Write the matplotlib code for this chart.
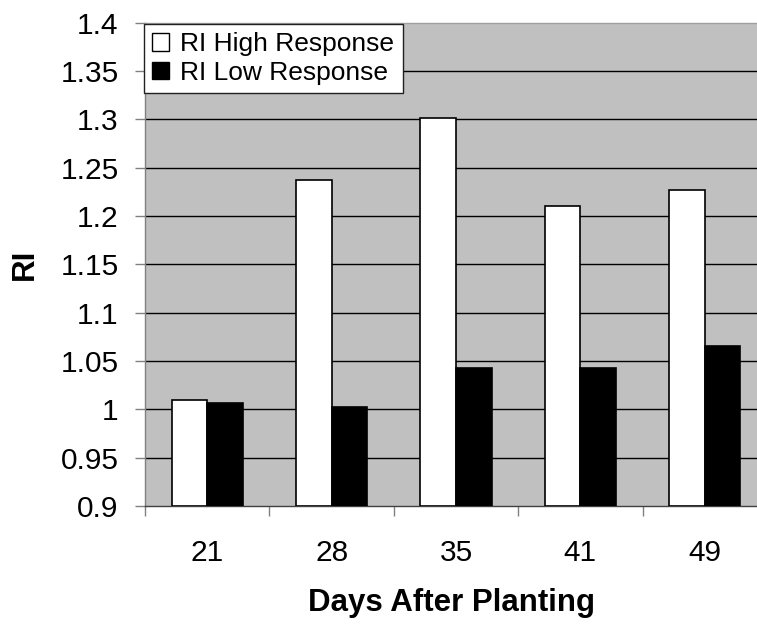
import matplotlib
matplotlib.use("Agg")
import matplotlib.pyplot as plt
import numpy as np

plt.rcParams['font.family'] = ['Liberation Sans', 'DejaVu Sans']

categories = ["21", "28", "35", "41", "49"]
ri_high = [1.010, 1.237, 1.301, 1.210, 1.227]
ri_low = [1.007, 1.002, 1.043, 1.043, 1.065]
y_ticks = [0.9, 0.95, 1.0, 1.05, 1.1, 1.15, 1.2, 1.25, 1.3, 1.35, 1.4]
y_tick_labels = ["0.9", "0.95", "1", "1.05", "1.1", "1.15", "1.2", "1.25", "1.3", "1.35", "1.4"]

W, H = 757, 624
fig = plt.figure(figsize=(W / 100, H / 100), dpi=100)
left, right, top, bottom = 145, 767, 22.5, 506
ax = fig.add_axes([left / W, 1 - bottom / H, (right - left) / W, (bottom - top) / H])
ax.set_facecolor("#C0C0C0")

x = np.arange(len(categories))
bw = 0.286
ax.bar(x - bw / 2, np.array(ri_high) - 0.9, bw, bottom=0.9, color="white",
       edgecolor="black", linewidth=1.2, label="RI High Response", zorder=3)
ax.bar(x + bw / 2, np.array(ri_low) - 0.9, bw, bottom=0.9, color="black",
       edgecolor="black", linewidth=1.2, label="RI Low Response", zorder=3)

ax.set_ylim(0.9, 1.4)
ax.set_xlim(-0.5, len(categories) - 0.5)
ax.set_yticks(y_ticks)
ax.set_yticklabels(y_tick_labels, fontsize=21.5)
for yv in y_ticks[1:-1]:
    ax.axhline(yv, color="black", linewidth=1.0, zorder=1)

ax.set_xticks(x)
ax.set_xticklabels(categories, fontsize=21.5)
ax.tick_params(axis="x", which="major", length=0, pad=24)
ax.set_xticks(np.arange(-0.5, len(categories), 1.0), minor=True)
ax.tick_params(axis="x", which="minor", length=7, width=1, color="#808080", direction="out")
ax.tick_params(axis="y", which="major", length=7, width=1, color="#808080", direction="out", pad=12)

ax.spines["left"].set_color("#808080")
ax.spines["bottom"].set_color("#404040")
ax.spines["top"].set_color("#A0A0A0")
ax.spines["right"].set_visible(False)
for s in ax.spines.values():
    s.set_linewidth(1.0)

fig.text(25 / W, 1 - 264 / H, "RI", rotation=90, ha="center", va="center",
         fontsize=22.5, fontweight="bold")
fig.text(452 / W, 1 - 603 / H, "Days After Planting", ha="center", va="center",
         fontsize=22.5, fontweight="bold")

leg = ax.legend(loc="upper left", bbox_to_anchor=(-0.002, (bottom - 24) / (bottom - top)),
                borderaxespad=0, fontsize=19, frameon=True, fancybox=False,
                framealpha=1, edgecolor="#202020", handlelength=0.64, handleheight=0.64,
                handletextpad=0.42, labelspacing=0.16, borderpad=0.32)
leg.get_frame().set_linewidth(1.0)
for h in leg.legend_handles:
    h.set_linewidth(1.0)

fig.savefig("out.png", dpi=100)
